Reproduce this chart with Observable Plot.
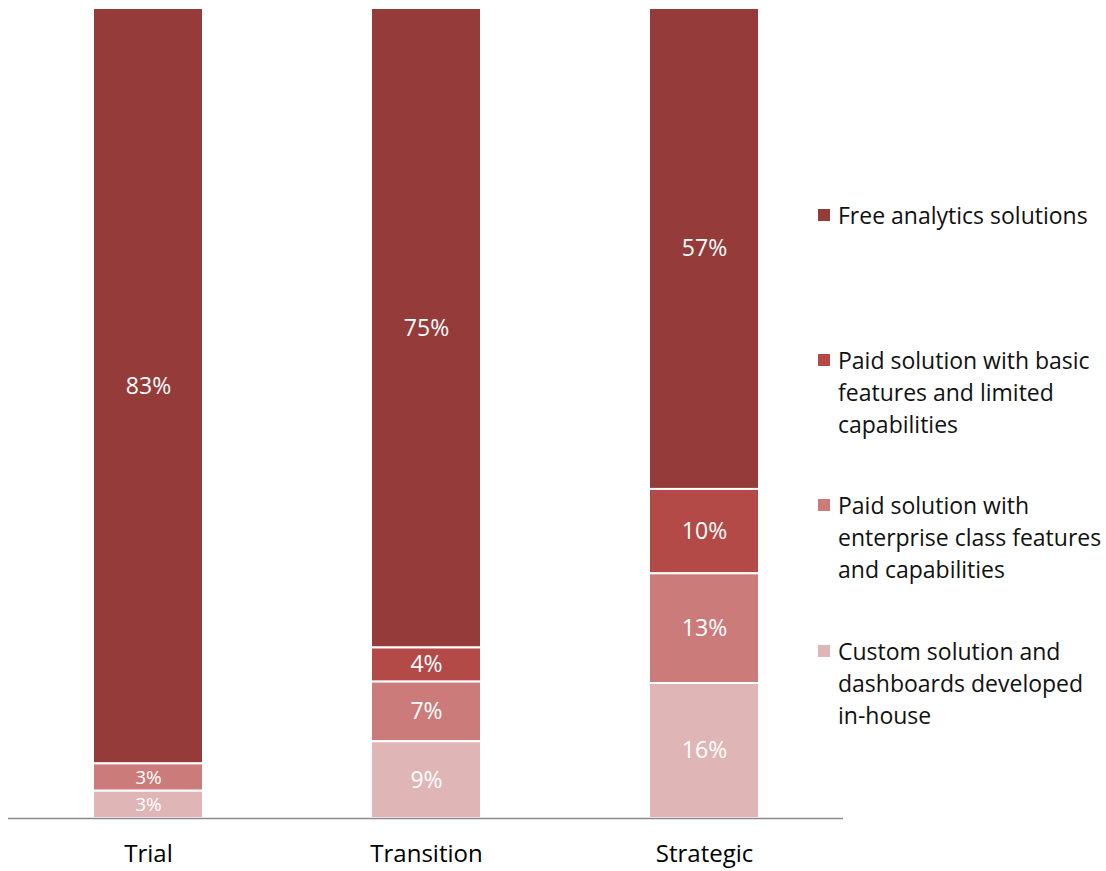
<!DOCTYPE html>
<html>
<head>
<meta charset="utf-8">
<script src="https://cdn.jsdelivr.net/npm/d3@7"></script>
<script src="https://cdn.jsdelivr.net/npm/@observablehq/plot@0.6"></script>
<style>
  html, body { margin: 0; padding: 0; background: #fff; }
  #wrap { position: relative; width: 1106px; height: 871px; font-family: "Open Sans", sans-serif; }
  #legend { position: absolute; left: 818px; top: 0; }
  .item { position: absolute; left: 0; width: 290px; }
  .sw { position: absolute; left: 0; width: 12px; height: 12px; }
  .lab { position: absolute; left: 20px; font-size: 23px; line-height: 32px; color: #111; white-space: pre; }
</style>
</head>
<body>
<div id="wrap"><div id="legend"></div></div>
<script>
const categories = ["Trial", "Transition", "Strategic"];
const seriesNames = [
  "Free analytics solutions",
  "Paid solution with basic features and limited capabilities",
  "Paid solution with enterprise class features and capabilities",
  "Custom solution and dashboards developed in-house"
];
const legendLines = [
  ["Free analytics solutions"],
  ["Paid solution with basic", "features and limited", "capabilities"],
  ["Paid solution with", "enterprise class features", "and capabilities"],
  ["Custom solution and", "dashboards developed", "in-house"]
];
const freeValues = [83, 75, 57];
const basicValues = [0, 4, 10];
const enterpriseValues = [3, 7, 13];
const customValues = [3, 9, 16];
const colors = ["#953B39", "#B34A48", "#CA7B7A", "#E0B5B5"];

const seriesValues = [freeValues, basicValues, enterpriseValues, customValues];
const data = [];
seriesNames.forEach((s, si) => {
  categories.forEach((c, ci) => {
    data.push({category: c, series: s, value: seriesValues[si][ci]});
  });
});
const stackOrder = [...seriesNames].reverse(); // bottom first

const chart = Plot.plot({
  width: 1106,
  height: 871,
  marginLeft: 8,
  marginRight: 263,
  marginTop: 8,
  marginBottom: 53,
  style: {fontFamily: "'Open Sans', sans-serif", background: "#fff"},
  x: {domain: categories, paddingInner: 0.605, paddingOuter: 0.3025, label: null},
  y: {axis: null, domain: [0, 1]},
  color: {domain: seriesNames, range: colors},
  marks: [
    Plot.barY(data, Plot.stackY({
      x: "category", y: "value", z: "series", fill: "series",
      order: stackOrder, offset: "normalize",
      stroke: "#fff", strokeWidth: 2
    })),
    Plot.text(data, Plot.stackY({
      filter: d => d.value > 0,
      x: "category", y: "value", z: "series",
      order: stackOrder, offset: "normalize",
      text: d => d.value + "%", fill: "#fff",
      fontSize: d => d.value <= 3 ? 19 : 23
    })),
    Plot.ruleY([0], {stroke: "#8a8a8a", strokeWidth: 1.5}),
    Plot.axisX({tickSize: 0, tickPadding: 26, fontSize: 24, fill: "#000", label: null})
  ]
});
chart.style.position = "absolute";
chart.style.left = "0";
chart.style.top = "0";
const wrap = document.getElementById("wrap");
wrap.insertBefore(chart, wrap.firstChild);

const legendTops = [199, 344, 489, 635];
const legend = document.getElementById("legend");
legendLines.forEach((lines, i) => {
  const item = document.createElement("div");
  item.className = "item";
  item.style.top = legendTops[i] + "px";
  const sw = document.createElement("div");
  sw.className = "sw";
  sw.style.background = colors[i];
  sw.style.top = "10px";
  const lab = document.createElement("div");
  lab.className = "lab";
  lab.textContent = lines.join("\n");
  item.appendChild(sw);
  item.appendChild(lab);
  legend.appendChild(item);
});
</script>
</body>
</html>
